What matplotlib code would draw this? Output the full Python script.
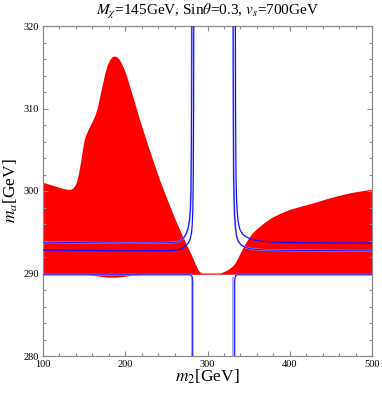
import numpy as np
from matplotlib import pyplot as plt
from matplotlib.ticker import MultipleLocator

plt.rcParams['font.family'] = ['Liberation Serif', 'DejaVu Serif']
plt.rcParams['mathtext.fontset'] = 'stix'

# red allowed region, upper edge (m2 [GeV], m_a [GeV])
m2_red_top = [100, 105, 110, 115, 120, 125, 130, 134, 137, 140, 142, 144, 146,
              148, 150, 152, 155, 158, 161, 164, 167, 170, 173, 176, 179, 182,
              185, 188, 191, 194, 197, 200, 203, 206, 210, 218, 226, 234, 243,
              252, 260, 266, 272, 277, 281, 284, 287, 289, 291, 294, 316, 319,
              322, 325, 328, 331, 334, 337, 340, 343, 346, 349, 352, 356, 362,
              370, 378, 388, 400, 414, 429, 445, 460, 475, 490, 500]
ma_red_top = [301.0, 300.85, 300.7, 300.55, 300.4, 300.25, 300.15, 300.15,
              300.3, 300.7, 301.3, 302.2, 303.3, 304.6, 305.8, 306.6, 307.3,
              307.9, 308.5, 309.2, 310.2, 311.6, 313.0, 314.3, 315.3, 315.9,
              316.25, 316.3, 316.15, 315.8, 315.2, 314.5, 313.6, 312.6, 311.3,
              308.6, 306.1, 303.7, 301.1, 298.8, 296.8, 295.4, 294.1, 293.0,
              292.2, 291.5, 290.8, 290.4, 290.15, 290.0, 290.0, 290.1, 290.25,
              290.4, 290.6, 290.85, 291.2, 291.75, 292.35, 292.95, 293.5, 294.0,
              294.45, 294.95, 295.5, 296.15, 296.7, 297.2, 297.7, 298.1, 298.5,
              299.0, 299.4, 299.75, 300.0, 300.15]
# lower edge
m2_red_bot = [100, 150, 160, 170, 180, 190, 200, 210, 225, 500]
ma_red_bot = [289.85, 289.85, 289.75, 289.6, 289.5, 289.5, 289.6, 289.75,
              289.85, 289.85]

# blue contours
m2_up_left = [100, 200, 250, 262, 267, 271, 274, 276.5, 278.2, 279.3, 279.9,
              280.4, 280.7, 280.9]
ma_up_left = [293.8, 293.68, 293.72, 293.8, 293.95, 294.3, 294.8, 295.5,
              296.5, 298.0, 300.0, 305.0, 312.0, 320.0]
m2_lo_left = [100, 200, 255, 263, 268.6, 273, 276.7, 279, 280.7, 281.6,
              282.2, 282.7, 283.1, 283.3]
ma_lo_left = [292.85, 292.75, 292.78, 292.85, 293.0, 293.3, 293.7, 294.2,
              295.0, 296.2, 298.0, 302.0, 310.0, 320.0]
m2_lo_right = [331.2, 331.4, 331.8, 332.3, 332.9, 333.8, 335.2, 337.5, 341,
               346, 355, 370, 400, 500]
ma_lo_right = [320.0, 310.0, 302.0, 299.0, 297.2, 295.8, 294.6, 293.9, 293.45,
               293.15, 292.95, 292.85, 292.8, 292.75]
m2_up_right = [333.9, 334.1, 334.6, 335.3, 336.2, 337.2, 339.5, 342.5, 346,
               352, 362, 380, 420, 500]
ma_up_right = [320.0, 310.0, 302.0, 299.0, 297.5, 296.3, 295.3, 294.8, 294.5,
               294.2, 293.95, 293.8, 293.72, 293.7]
m2_floor_left = [100, 279, 281, 281.8, 282, 282]
ma_floor_left = [289.85, 289.85, 289.7, 289.3, 288.8, 280]
m2_floor_right = [500, 336, 334, 333.2, 333, 333]
ma_floor_right = [289.85, 289.85, 289.7, 289.3, 288.8, 280]
m2_light_left = [280.8, 280.8]
m2_light_right = [331.3, 331.3]
ma_light = [289.4, 280]

fig = plt.figure(figsize=(3.82, 3.94), dpi=100)
ax = fig.add_axes([43/382, 1-356/394, 329/382, 330/394])

ax.fill(m2_red_top + m2_red_bot[::-1], ma_red_top + ma_red_bot[::-1],
        color='#ff0000', lw=0, zorder=1)

light = '#9a9aff'
dark = '#1010ff'
for xs, ys in [(m2_up_left, ma_up_left), (m2_lo_right, ma_lo_right)]:
    ax.plot(xs, ys, color=light, lw=1.4, zorder=2)
    ax.plot(xs, ys, color=dark, lw=0.7, zorder=3)
for xs, ys in [(m2_lo_left, ma_lo_left), (m2_up_right, ma_up_right)]:
    ax.plot(xs, ys, color=dark, lw=0.9, zorder=3)
ax.plot(m2_light_left, ma_light, color=light, lw=1.2, zorder=2)
ax.plot(m2_light_right, ma_light, color=light, lw=1.2, zorder=2)
ax.plot(m2_floor_left, ma_floor_left, color=light, lw=1.3, zorder=2)
ax.plot(m2_floor_left, ma_floor_left, color=dark, lw=0.6, zorder=3)
ax.plot(m2_floor_right, ma_floor_right, color=light, lw=1.3, zorder=2)
ax.plot(m2_floor_right, ma_floor_right, color=dark, lw=0.6, zorder=3)

ax.set_xlim(100, 500)
ax.set_ylim(280, 320)
ax.xaxis.set_major_locator(MultipleLocator(100))
ax.xaxis.set_minor_locator(MultipleLocator(20))
ax.yaxis.set_major_locator(MultipleLocator(10))
ax.yaxis.set_minor_locator(MultipleLocator(2))
ax.tick_params(which='both', direction='in', top=True, right=True,
               color='#8c8c8c', width=0.8, labelsize=7.5, pad=3)
ax.tick_params(which='major', length=3.5)
ax.tick_params(which='minor', length=2.2)
for s in ax.spines.values():
    s.set_color('#8c8c8c')
    s.set_linewidth(0.9)

fig.text(207.5/382, 1-12/394, r'$M_\chi$=145GeV, Sin$\theta$=0.3, $v_s$=700GeV',
         ha='center', va='center', fontsize=11)
fig.text(207.5/382, 1-377/394, r'$m_2$[GeV]', ha='center', va='center', fontsize=12.5)
fig.text(11/382, 1-191/394, r'$m_a$[GeV]', ha='center', va='center',
         rotation=90, fontsize=12.5)

plt.savefig('out.png', dpi=100)
